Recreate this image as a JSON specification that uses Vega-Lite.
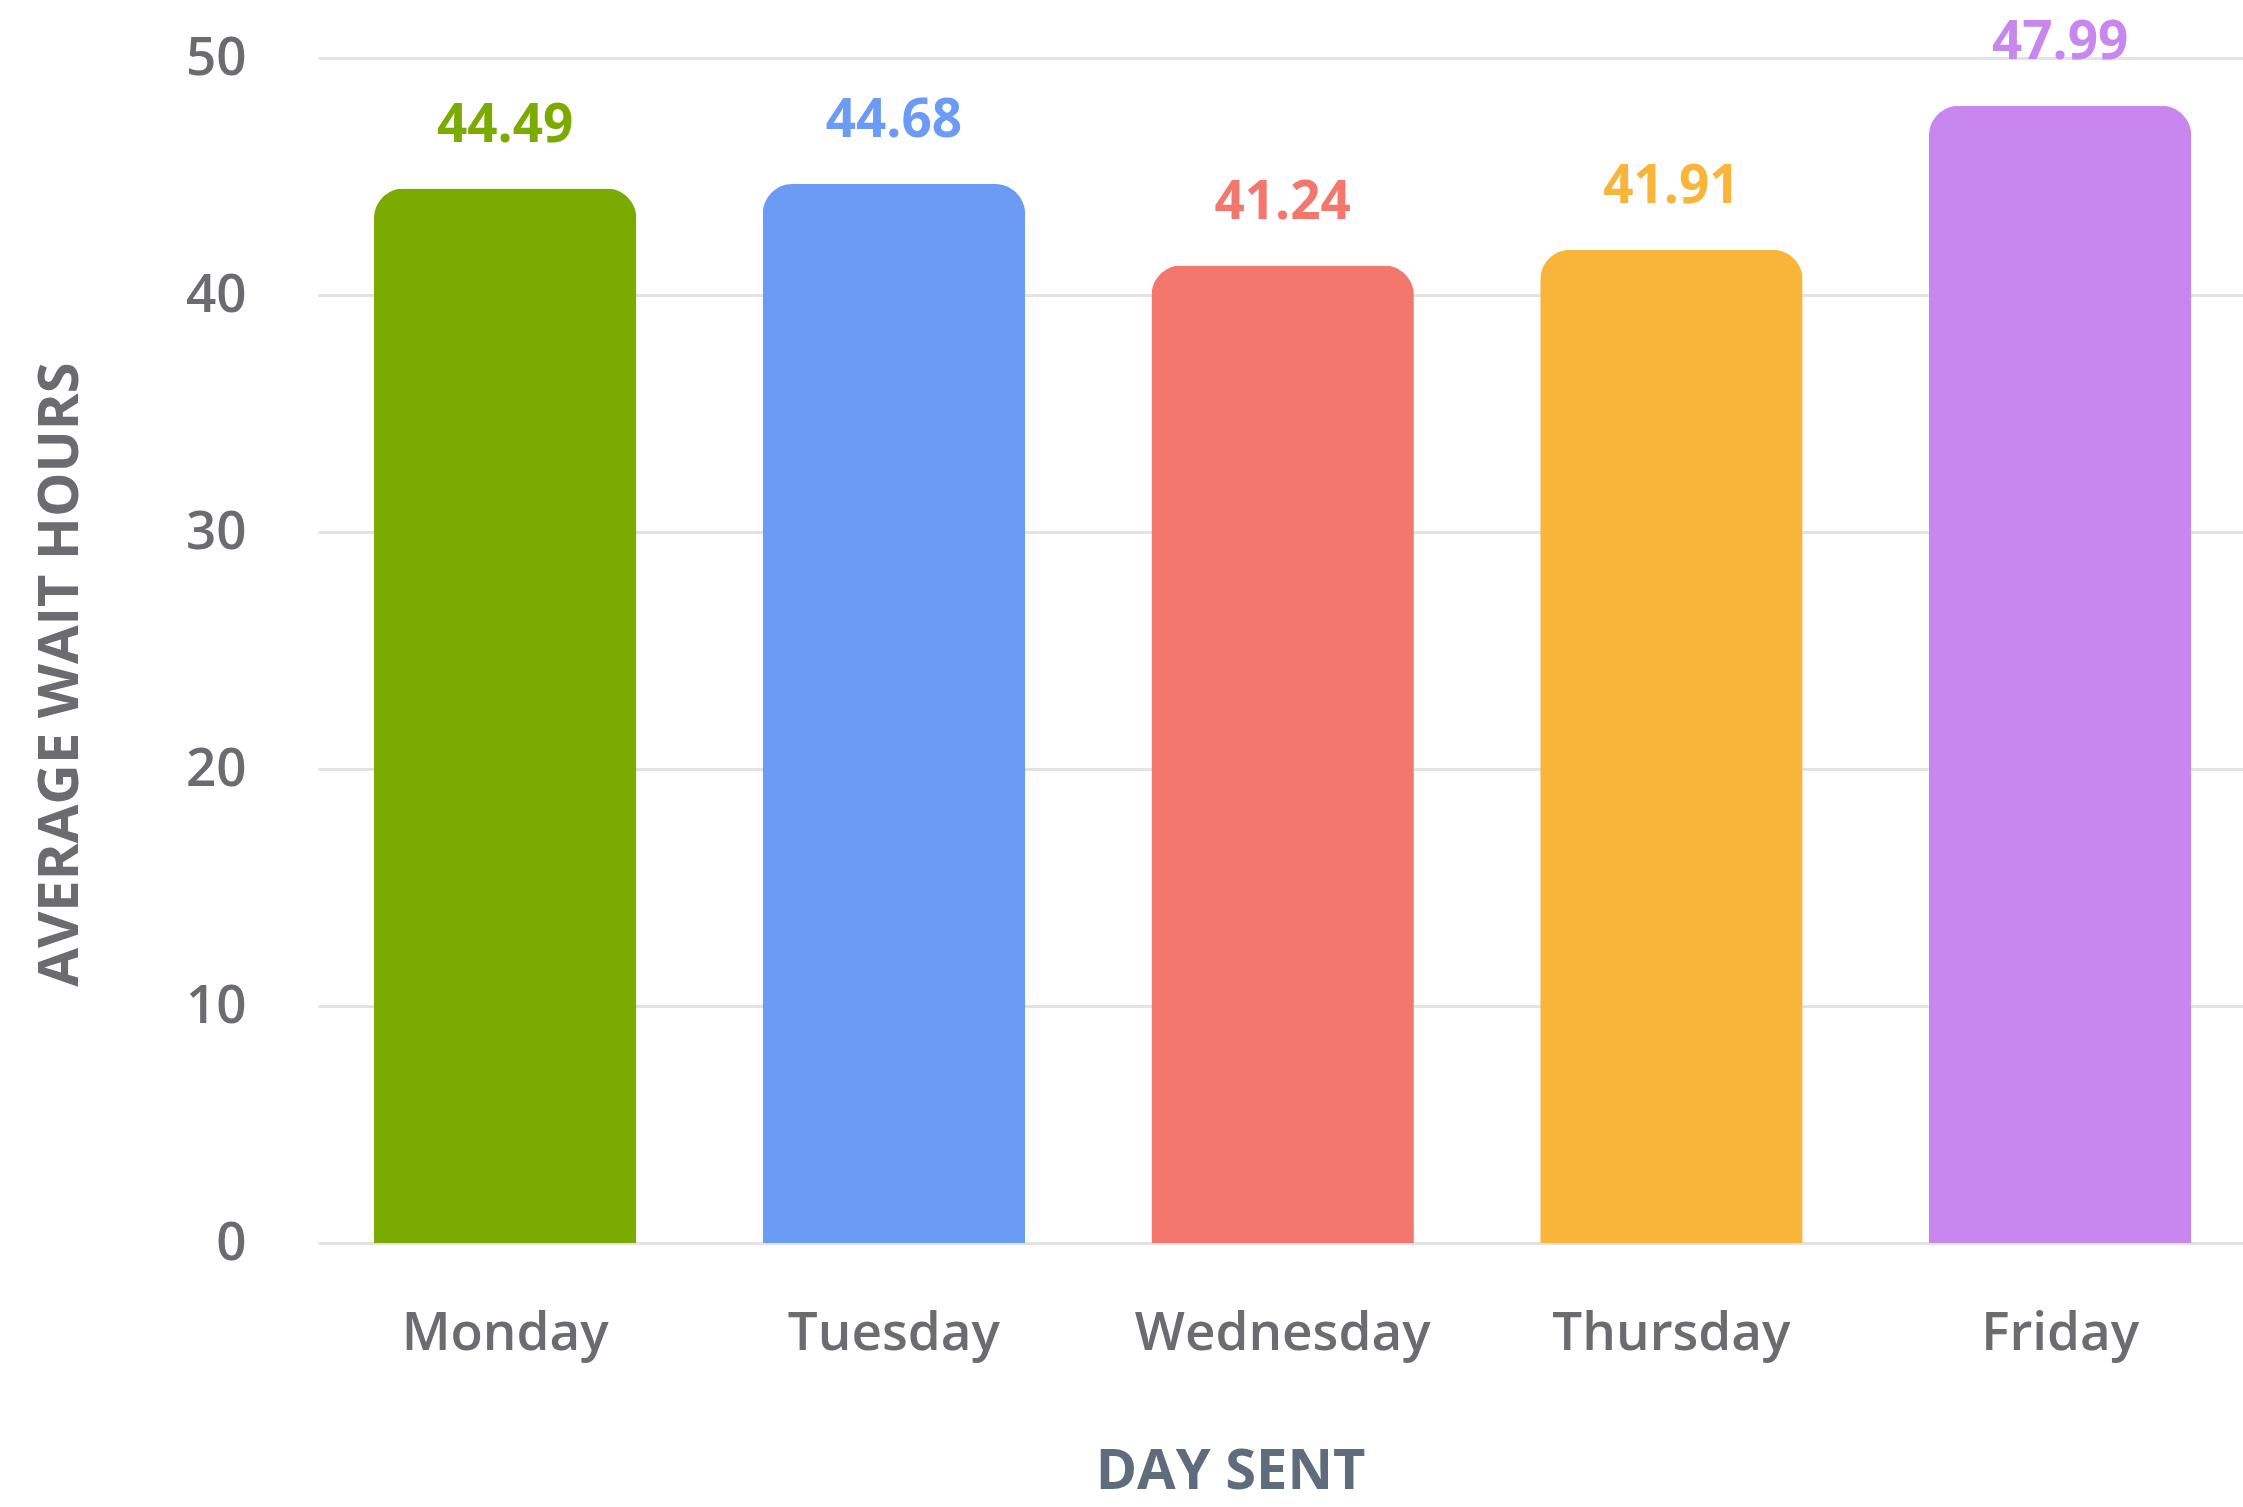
{
  "$schema": "https://vega.github.io/schema/vega-lite/v6.json",
  "autosize": "none",
  "width": 1925,
  "height": 1185,
  "padding": {"left": 318, "top": 58, "right": 0, "bottom": 264},
  "background": "white",
  "config": {
    "view": {"stroke": null},
    "font": "Open Sans"
  },
  "data": {
    "values": [
      {"day": "Monday", "hours": 44.49},
      {"day": "Tuesday", "hours": 44.68},
      {"day": "Wednesday", "hours": 41.24},
      {"day": "Thursday", "hours": 41.91},
      {"day": "Friday", "hours": 47.99}
    ]
  },
  "encoding": {
    "x": {
      "field": "day",
      "type": "nominal",
      "sort": null,
      "scale": {"paddingInner": 0.325, "paddingOuter": 0.1384, "align": 0.52},
      "axis": {
        "title": "DAY SENT",
        "titleFont": "Open Sans",
        "titleFontSize": 56,
        "titleFontWeight": "bold",
        "titleColor": "#5e6c7c",
        "titleX": 912,
        "titleY": 245,
        "titleBaseline": "alphabetic",
        "titleAlign": "center",
        "labelFont": "Open Sans",
        "labelFontSize": 53,
        "labelFontWeight": 600,
        "labelColor": "#6b6b70",
        "labelAngle": 0,
        "labelPadding": 64,
        "labelBaseline": "top",
        "labelLimit": 0,
        "labelOverlap": false,
        "ticks": false,
        "tickSize": 0,
        "domain": false,
        "grid": false
      }
    },
    "y": {
      "field": "hours",
      "type": "quantitative",
      "scale": {"domain": [0, 50], "nice": false},
      "axis": {
        "title": "AVERAGE WAIT HOURS",
        "titleFont": "Open Sans",
        "titleFontSize": 56,
        "titleFontWeight": "bold",
        "titleColor": "#6b6b70",
        "titleAngle": -90,
        "titleX": -258,
        "titleY": 616,
        "titleBaseline": "middle",
        "titleAlign": "center",
        "values": [0, 10, 20, 30, 40, 50],
        "labelFont": "Open Sans",
        "labelFontSize": 53,
        "labelFontWeight": 600,
        "labelColor": "#6b6b70",
        "labelPadding": 72,
        "labelBaseline": "middle",
        "ticks": false,
        "tickSize": 0,
        "domain": false,
        "grid": true,
        "gridColor": "#e3e3e3",
        "gridWidth": 3
      }
    },
    "color": {
      "field": "day",
      "type": "nominal",
      "sort": null,
      "scale": {
        "domain": ["Monday", "Tuesday", "Wednesday", "Thursday", "Friday"],
        "range": ["#7bab00", "#6b9bf4", "#f4776e", "#f9b43a", "#c787ef"]
      },
      "legend": null
    }
  },
  "layer": [
    {
      "mark": {"type": "bar", "cornerRadiusTopLeft": 30, "cornerRadiusTopRight": 30}
    },
    {
      "mark": {"type": "text", "font": "Open Sans", "fontSize": 53, "fontWeight": "bold", "baseline": "alphabetic", "dy": -47},
      "encoding": {
        "text": {"field": "hours", "type": "quantitative", "format": ".2f"}
      }
    }
  ]
}
